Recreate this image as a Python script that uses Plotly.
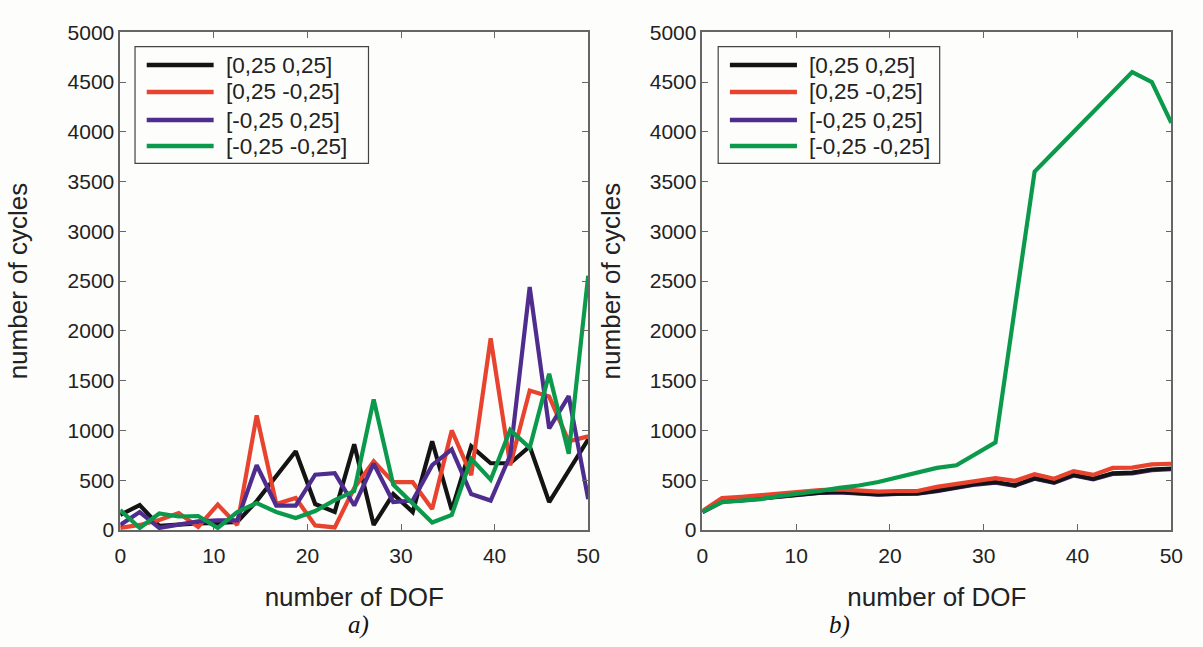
import plotly.graph_objects as go

# number of DOF (x values)
dof = [0, 2.08, 4.17, 6.25, 8.33, 10.42, 12.5, 14.58, 16.67, 18.75, 20.83, 22.92,
       25, 27.08, 29.17, 31.25, 33.33, 35.42, 37.5, 39.58, 41.67, 43.75, 45.83, 47.92, 50]

labels = ["[0,25 0,25]", "[0,25 -0,25]", "[-0,25 0,25]", "[-0,25 -0,25]"]
colors = ["#141414", "#e8432f", "#4f2d8f", "#0b9a4c"]

# panel a)
a_black = [150, 250, 40, 55, 65, 70, 80, 290, 540, 790, 260, 180, 860, 50, 360, 180,
           890, 200, 840, 670, 670, 840, 280, 590, 910]
a_red = [20, 50, 100, 170, 30, 255, 50, 1150, 260, 320, 45, 25, 420, 690, 480, 480,
         210, 1000, 550, 1925, 650, 1400, 1340, 890, 940]
a_purple = [50, 180, 20, 50, 85, 95, 95, 650, 245, 245, 555, 570, 245, 665, 280, 295,
            650, 810, 360, 295, 750, 2440, 1020, 1345, 310]
a_green = [200, 20, 165, 135, 140, 20, 180, 270, 180, 120, 190, 300, 390, 1310, 455, 262,
           75, 150, 715, 505, 1005, 825, 1570, 765, 2555]

# panel b)
b_black = [181, 288, 300, 320, 342, 358, 375, 381, 368, 358, 365, 368, 395, 429, 462, 481,
           449, 520, 478, 553, 514, 569, 575, 607, 617]
b_red = [191, 320, 333, 349, 375, 391, 400, 407, 397, 384, 391, 391, 432, 462, 494, 520,
         494, 559, 514, 591, 553, 623, 626, 659, 665]
b_purple = [178, 283, 296, 316, 338, 354, 371, 377, 364, 354, 361, 364, 390, 424, 456, 475,
            444, 514, 472, 547, 508, 563, 569, 601, 611]
b_green = [181, 278, 294, 310, 342, 365, 391, 423, 446, 481, 526, 575, 623, 650, 760, 880,
           2240, 3600, 3800, 4000, 4200, 4400, 4600, 4500, 4090]

x_ticks = [0, 10, 20, 30, 40, 50]
y_ticks = list(range(0, 5001, 500))

FONT = "Liberation Sans, Arial, Helvetica, sans-serif"
SERIF = "Liberation Serif, Times New Roman, serif"

fig = go.Figure()

panel_a = [a_black, a_red, a_purple, a_green]
panel_b = [b_black, b_red, b_purple, b_green]

for ser, col, lab in zip(panel_a, colors, labels):
    fig.add_trace(go.Scatter(x=dof, y=ser, mode="lines", name=lab,
                             line=dict(color=col, width=4.2), xaxis="x", yaxis="y",
                             showlegend=False))
# in b) purple lies beneath black
order_b = [2, 0, 1, 3]
for k in order_b:
    fig.add_trace(go.Scatter(x=dof, y=panel_b[k], mode="lines", name=labels[k],
                             line=dict(color=colors[k], width=4.2), xaxis="x2", yaxis="y2",
                             showlegend=False))

axis_common = dict(
    showline=True, linecolor="#666666", linewidth=1.5, mirror="ticks",
    ticks="inside", ticklen=6, tickcolor="#666666", tickwidth=1.2,
    showgrid=False, zeroline=False,
    tickfont=dict(family=FONT, size=21, color="#222222"),
)
title_font = dict(family=FONT, size=26, color="#222222")

y0, y1 = 0.170, 0.9675
fig.update_layout(
    width=1203, height=647,
    margin=dict(l=0, r=0, t=0, b=0),
    paper_bgcolor="#fdfdfb", plot_bgcolor="#fdfdfb",
    xaxis=dict(domain=[0.0964, 0.4913], range=[0, 50], tickvals=x_ticks,
               title=dict(text="number of DOF", font=title_font, standoff=22),
               ticklabelstandoff=6, anchor="y", **axis_common),
    yaxis=dict(domain=[y0, y1], range=[0, 5000], tickvals=y_ticks,
               title=dict(text="number of cycles", font=title_font, standoff=32),
               anchor="x", **axis_common),
    xaxis2=dict(domain=[0.5877, 0.9834], range=[0, 50], tickvals=x_ticks,
                title=dict(text="number of DOF", font=title_font, standoff=22),
                ticklabelstandoff=6, anchor="y2", **axis_common),
    yaxis2=dict(domain=[y0, y1], range=[0, 5000], tickvals=y_ticks,
                title=dict(text="number of cycles", font=title_font, standoff=22),
                anchor="x2", **axis_common),
)

# custom legends (long line samples like the original)
shapes = []
annotations = []
row_y = [0.934, 0.880, 0.8236, 0.7713]
for xa, ya, box in [("x", "y", (0.0316, 0.5305)), ("x2", "y2", (0.0336, 0.506))]:
    xr, yr = f"{xa} domain", f"{ya} domain"
    shapes.append(dict(type="rect", xref=xr, yref=yr, x0=box[0], x1=box[1], y0=0.7364, y1=0.971,
                       line=dict(color="#444444", width=1.2), fillcolor="#fdfdfb", layer="above"))
    for lab, col, ry in zip(labels, colors, row_y):
        shapes.append(dict(type="line", xref=xr, yref=yr, x0=box[0] + 0.025, x1=box[0] + 0.168,
                           y0=ry, y1=ry, line=dict(color=col, width=4.5), layer="above"))
        annotations.append(dict(xref=xr, yref=yr, x=box[0] + 0.19, y=ry, text=lab,
                                showarrow=False, xanchor="left", yanchor="middle",
                                font=dict(family=FONT, size=22.5, color="#222222")))

annotations.append(dict(xref="paper", yref="paper", x=358 / 1203, y=(647 - 636) / 647,
                        text="<i>a)</i>", showarrow=False, xanchor="center", yanchor="middle",
                        font=dict(family=SERIF, size=25, color="#111111")))
annotations.append(dict(xref="paper", yref="paper", x=846 / 1203, y=(647 - 636) / 647,
                        text="<i>b)</i>", showarrow=False, xanchor="center", yanchor="middle",
                        font=dict(family=SERIF, size=25, color="#111111")))

fig.update_layout(shapes=shapes, annotations=annotations)

fig.write_html("out.html")
